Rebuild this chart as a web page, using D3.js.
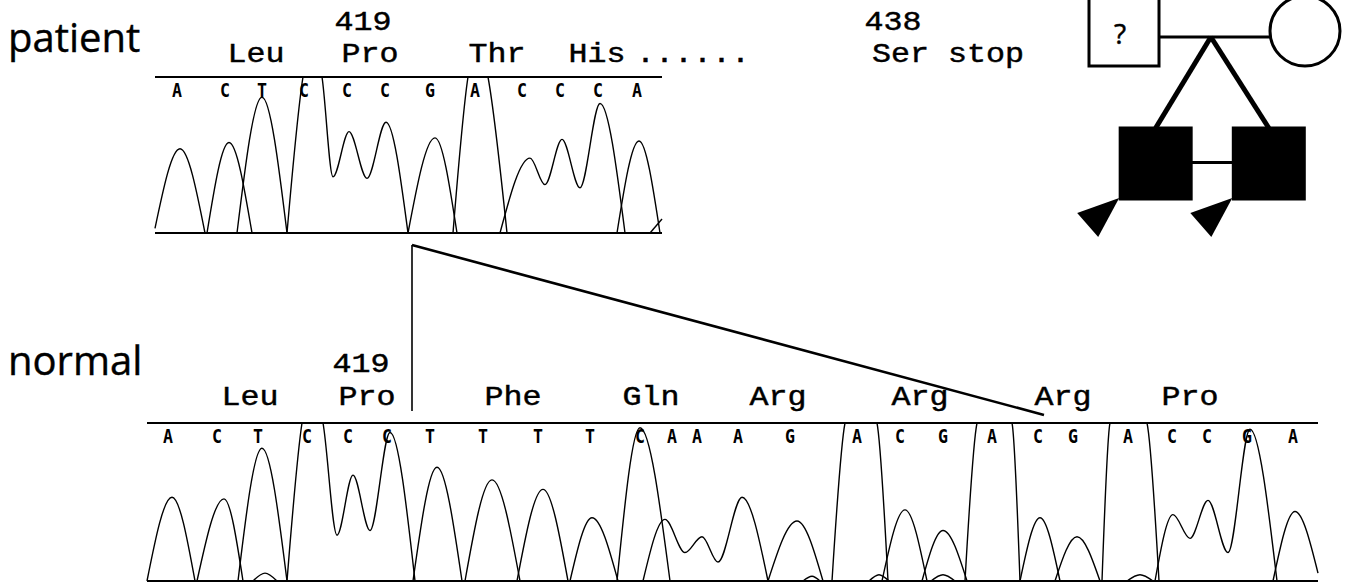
<!DOCTYPE html>
<html>
<head>
<meta charset="utf-8">
<script src="https://cdn.jsdelivr.net/npm/d3@7"></script>
<style>
  html, body { margin: 0; padding: 0; background: #fff; }
  svg { display: block; }
</style>
</head>
<body>
<svg id="fig" width="1359" height="584"></svg>
<script>
// ---------------- patient read (scan units; intensity 0-100, 100 = panel top) ----------------
const patientBases    = ["A","C","T","C","C","C","G","A","C","C","C","A"];
const patientBaseScan = [22, 70, 107, 149, 192, 230, 275, 320, 367, 405, 443, 482];
const patientTraces = [
  [[0,3],[25,54],[50,0]],
  [[52,0],[74,58],[97,0]],
  [[82,0],[107,87],[132,0]],
  [[132,0],[148,100],[157,125],[167,100],[178,36],[194,65],[212,35],[231,71],[253,0]],
  [[253,0],[280,61],[302,0]],
  [[298,0],[313,100],[323,125],[333,100],[352,0]],
  [[345,0],[375,48],[390,31],[407,60],[425,29],[445,83],[470,0]],
  [[462,0],[484,59],[505,0]],
  [[495,0],[507,9]]
];
const patientCodons     = ["Leu","Pro","Thr","His","......","Ser stop"];
const patientCodonScan  = [101, 215, 342, 442, 538, 793];
const patientNumbers    = ["419","438"];
const patientNumberScan = [208, 738];

// ---------------- normal read ----------------
const normalBases    = ["A","C","T","C","C","C","T","T","T","T","C","A","A","A","G","A","C","G","A","C","G","A","C","C","G","A"];
const normalBaseScan = [21, 70, 111, 160, 201, 240, 283, 336, 391, 443, 493, 525, 550, 591, 643, 710, 753, 796, 845, 891, 926, 981, 1025, 1060, 1100, 1146];
const normalTraces = [
  [[0,0],[25,53],[48,0]],
  [[50,0],[77,52],[96,0]],
  [[106,0],[118,5],[130,0]],
  [[91,0],[115,84],[140,0]],
  [[140,0],[155,100],[165,125],[176,100],[190,29],[206,67],[223,32],[243,94],[268,0]],
  [[266,0],[290,72],[315,0]],
  [[318,0],[345,64],[373,0]],
  [[370,0],[396,58],[421,0]],
  [[423,0],[445,40],[471,0]],
  [[470,0],[493,97],[523,0]],
  [[496,0],[518,39],[538,18],[555,28],[571,12],[595,53],[621,0]],
  [[621,0],[650,38],[676,0]],
  [[656,0],[665,3],[673,0]],
  [[685,0],[698,100],[714,125],[730,100],[741,0]],
  [[722,0],[732,4],[742,0]],
  [[735,0],[758,45],[780,0]],
  [[775,0],[796,32],[820,0]],
  [[784,0],[796,4],[808,0]],
  [[818,0],[830,100],[847,125],[865,100],[873,0]],
  [[873,0],[893,40],[913,0]],
  [[908,0],[930,28],[953,0]],
  [[955,0],[963,100],[982,125],[1000,100],[1012,0]],
  [[980,0],[993,4],[1006,0]],
  [[1008,0],[1026,42],[1043,27],[1061,51],[1081,18],[1103,96],[1130,0]],
  [[1126,0],[1148,44],[1171,5]]
];
const normalCodons     = ["Leu","Pro","Phe","Gln","Arg","Arg","Arg","Pro"];
const normalCodonScan  = [103, 220, 366, 504, 631, 773, 916, 1043];
const normalNumbers    = ["419"];
const normalNumberScan = [214];

// deleted stretch: patient junction, and where the normal read leaves / rejoins it
const junctionPatientScan = 257;
const deletionNormalScan  = [265, 897];

// ---------------- pedigree ----------------
const pedMembers = ["I-1", "I-2", "II-1", "II-2"];
const pedSex     = ["male", "female", "male", "male"];
const pedStatus  = ["unknown", "unaffected", "affected", "affected"];
const pedGen     = [0, 0, 1, 1];
const pedPos     = [0, 4, 0.7, 3.2];
const pedProband = [false, false, true, true];
const pedMatingPos = 1.92;

// ---------------- drawing ----------------
const W = 1359, H = 584;
const svg = d3.select("#fig");
svg.append("rect").attr("width", W).attr("height", H).attr("fill", "#fff");
const defs = svg.append("defs");

const monoFont = "'Liberation Mono', 'DejaVu Sans Mono', monospace";
const codonSize = 27, codonAdvance = 19;

function drawPanel(p) {
  const x = d3.scaleLinear().domain(p.domain).range([p.left, p.right]);
  const y = d3.scaleLinear().domain([0, 100]).range([p.base, p.top]);
  const g = svg.append("g").attr("class", "panel-" + p.name);

  defs.append("clipPath").attr("id", "clip-" + p.name)
    .append("rect")
    .attr("x", p.left - 2).attr("y", p.top)
    .attr("width", p.right - p.left + 4).attr("height", p.base - p.top + 2);

  const line = d3.line()
    .x(d => x(d[0])).y(d => y(d[1]))
    .curve(d3.curveMonotoneX);

  g.append("g").attr("clip-path", `url(#clip-${p.name})`)
    .selectAll("path").data(p.traces).join("path")
    .attr("d", line)
    .attr("fill", "none").attr("stroke", "#000")
    .attr("stroke-width", 1.4).attr("stroke-linejoin", "round");

  // top rule and baseline
  [p.top, p.base].forEach(yy => {
    g.append("line")
      .attr("x1", p.left).attr("x2", p.right)
      .attr("y1", yy).attr("y2", yy)
      .attr("stroke", "#000").attr("stroke-width", 2.2);
  });

  // base calls
  g.selectAll("text.base").data(p.bases).join("text")
    .attr("class", "base")
    .attr("x", (d, i) => x(p.baseScan[i]))
    .attr("y", p.top + 20)
    .attr("text-anchor", "middle")
    .attr("font-family", "'DejaVu Sans Mono', monospace")
    .attr("font-weight", "bold")
    .attr("font-size", 20)
    .attr("textLength", 10)
    .attr("lengthAdjust", "spacingAndGlyphs")
    .text(d => d);

  // codon labels and residue numbers
  const label = (sel, yy) => sel
    .attr("y", yy)
    .attr("text-anchor", "middle")
    .attr("font-family", monoFont)
    .attr("font-size", codonSize)
    .attr("textLength", d => d.length * codonAdvance)
    .attr("lengthAdjust", "spacingAndGlyphs")
    .attr("stroke", "#000").attr("stroke-width", 0.45)
    .text(d => d);

  label(g.selectAll("text.codon").data(p.codons).join("text")
    .attr("class", "codon").attr("x", (d, i) => x(p.codonScan[i])), p.codonY);
  label(g.selectAll("text.num").data(p.numbers).join("text")
    .attr("class", "num").attr("x", (d, i) => x(p.numberScan[i])), p.numberY);

  // read name
  g.append("text")
    .attr("x", 8).attr("y", p.nameY)
    .attr("font-family", "'Open Sans', 'Noto Sans', sans-serif")
    .attr("font-size", 40)
    .attr("stroke", "#000").attr("stroke-width", 0.4)
    .text(p.name);

  return { x, y };
}

const patient = drawPanel({
  name: "patient", domain: [0, 507], left: 155, right: 662, top: 77, base: 233,
  traces: patientTraces, bases: patientBases, baseScan: patientBaseScan,
  codons: patientCodons, codonScan: patientCodonScan, codonY: 62,
  numbers: patientNumbers, numberScan: patientNumberScan, numberY: 30, nameY: 52
});

const normal = drawPanel({
  name: "normal", domain: [0, 1171], left: 147, right: 1318, top: 423, base: 581,
  traces: normalTraces, bases: normalBases, baseScan: normalBaseScan,
  codons: normalCodons, codonScan: normalCodonScan, codonY: 405,
  numbers: normalNumbers, numberScan: normalNumberScan, numberY: 372, nameY: 375
});

// deletion wedge: from the patient junction down to the span removed in the normal read
const jx = patient.x(junctionPatientScan), jy = 245;
const d0 = normal.x(deletionNormalScan[0]), d1 = normal.x(deletionNormalScan[1]);
svg.append("line").attr("x1", jx).attr("y1", jy).attr("x2", d0).attr("y2", 411)
  .attr("stroke", "#000").attr("stroke-width", 1.6);
svg.append("line").attr("x1", jx).attr("y1", jy).attr("x2", d1).attr("y2", 415)
  .attr("stroke", "#000").attr("stroke-width", 2.6);

// pedigree
const pedX = d3.scaleLinear().domain([0, 4]).range([1124, 1305]);
const pedY = d3.scaleOrdinal().domain([0, 1]).range([31, 163.5]);
const ped = svg.append("g").attr("class", "pedigree");
const sq = [70, 71];   // square side per generation
const circleR = 35;

const members = pedMembers.map((id, i) => ({
  id, sex: pedSex[i], status: pedStatus[i], gen: pedGen[i], pos: pedPos[i], proband: pedProband[i],
  cx: pedX(pedPos[i]), cy: pedY(pedGen[i])
}));

// mating line and descent lines
const father = members[0], mother = members[1];
const mateY = father.cy + 6;
ped.append("line")
  .attr("x1", father.cx + sq[0] / 2).attr("x2", mother.cx - circleR)
  .attr("y1", mateY).attr("y2", mateY)
  .attr("stroke", "#000").attr("stroke-width", 3);
const kids = members.filter(m => m.gen === 1);
kids.forEach(k => {
  ped.append("line")
    .attr("x1", pedX(pedMatingPos)).attr("y1", mateY)
    .attr("x2", k.cx).attr("y2", k.cy - sq[1] / 2)
    .attr("stroke", "#000").attr("stroke-width", 5).attr("stroke-linecap", "butt");
});
// bar between the two brothers
ped.append("line")
  .attr("x1", kids[0].cx + sq[1] / 2).attr("x2", kids[1].cx - sq[1] / 2)
  .attr("y1", kids[0].cy - 1).attr("y2", kids[0].cy - 1)
  .attr("stroke", "#000").attr("stroke-width", 3);

members.forEach(m => {
  const s = sq[m.gen];
  const fill = m.status === "affected" ? "#000" : "#fff";
  if (m.sex === "male") {
    ped.append("rect")
      .attr("x", m.cx - s / 2).attr("y", m.cy - s / 2)
      .attr("width", s).attr("height", s)
      .attr("fill", fill).attr("stroke", "#000").attr("stroke-width", 3);
  } else {
    ped.append("circle")
      .attr("cx", m.cx).attr("cy", m.cy).attr("r", circleR)
      .attr("fill", fill).attr("stroke", "#000").attr("stroke-width", 3);
  }
  if (m.status === "unknown") {
    ped.append("text")
      .attr("x", m.cx - 4).attr("y", m.cy + 13)
      .attr("text-anchor", "middle")
      .attr("font-family", "'Open Sans', 'Noto Sans', sans-serif")
      .attr("font-size", 28)
      .attr("stroke", "#000").attr("stroke-width", 0.5)
      .text("?");
  }
  if (m.proband) {
    // arrowhead pointing at the lower-left corner
    const bx = m.cx - s / 2, by = m.cy + s / 2;
    ped.append("path")
      .attr("d", `M${bx - 1},${by - 1} L${bx - 43},${by + 14} L${bx - 22},${by + 38} Z`)
      .attr("fill", "#000");
  }
});
</script>
</body>
</html>
